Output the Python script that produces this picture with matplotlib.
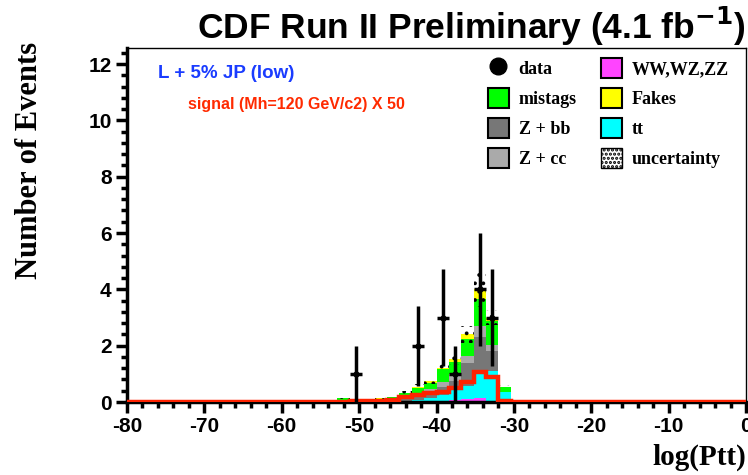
import numpy as np
import matplotlib
matplotlib.use('Agg')
import matplotlib.pyplot as plt
from matplotlib.patches import Patch
from matplotlib.lines import Line2D
from matplotlib.ticker import MultipleLocator

plt.rcParams['axes.unicode_minus'] = False

# binning of log(Ptt): 50 bins from -80 to 0
nbins = 50
xlo, xhi = -80., 0.
first_bin = 17   # index of first filled bin in the arrays below

# background components per bin (bins 17..30)
ww      = [0.00, 0.00, 0.00, 0.00, 0.00, 0.01, 0.01, 0.03, 0.04, 0.08, 0.12, 0.15, 0.05, 0.02]
ttbar   = [0.00, 0.00, 0.00, 0.01, 0.02, 0.03, 0.05, 0.10, 0.20, 0.42, 0.45, 0.85, 1.05, 0.32]
zbb     = [0.03, 0.02, 0.02, 0.03, 0.05, 0.10, 0.15, 0.25, 0.30, 0.26, 0.80, 1.30, 0.72, 0.02]
zcc     = [0.02, 0.01, 0.01, 0.02, 0.03, 0.05, 0.08, 0.08, 0.18, 0.25, 0.28, 0.40, 0.20, 0.00]
mistags = [0.10, 0.05, 0.04, 0.06, 0.08, 0.12, 0.20, 0.22, 0.44, 0.42, 0.60, 0.96, 0.86, 0.16]
fakes   = [0.00, 0.00, 0.00, 0.01, 0.01, 0.02, 0.06, 0.06, 0.04, 0.10, 0.15, 0.35, 0.12, 0.02]
uncert  = [0.03, 0.02, 0.02, 0.03, 0.04, 0.06, 0.08, 0.10, 0.15, 0.20, 0.30, 0.65, 0.25, 0.08]
# signal x 50
signal  = [0.00, 0.03, 0.04, 0.05, 0.08, 0.17, 0.25, 0.32, 0.36, 0.49, 0.71, 1.06, 0.87, 0.05]

# data
data_x = [-50.4, -42.4, -39.2, -37.6, -34.4, -32.8]
data_y = [1, 2, 3, 1, 4, 3]

comp_names  = ['WW,WZ,ZZ', 'tt', 'Z + bb', 'Z + cc', 'mistags', 'Fakes']
comp_vals   = [ww, ttbar, zbb, zcc, mistags, fakes]
comp_colors = ['#ff44ff', '#00ffff', '#777777', '#aaaaaa', '#00ff00', '#ffff00']

edges = np.linspace(xlo, xhi, nbins + 1)
nfill = len(ww)
sub_edges = edges[first_bin:first_bin + nfill + 1]

fig = plt.figure(figsize=(7.48, 4.75), dpi=100)
ax = fig.add_axes([127/748., 73/475., 619/748., 354/475.])

bottom = np.zeros(nfill)
for vals, col in zip(comp_vals, comp_colors):
    vals = np.array(vals)
    ax.stairs(bottom + vals, sub_edges, baseline=bottom, fill=True, color=col, lw=0)
    bottom = bottom + vals

# uncertainty band (dotted)
plt.rcParams['hatch.linewidth'] = 1.5
centers = 0.5*(sub_edges[1:] + sub_edges[:-1])
unc = np.array(uncert)
ax.bar(centers, 2*unc, bottom=bottom - unc, width=1.6, fill=False,
       hatch='..', edgecolor='black', linewidth=0)

# signal
sig_full = np.zeros(nbins)
sig_full[first_bin:first_bin + nfill] = signal
ax.stairs(sig_full, edges, color='#ff2200', lw=3.2, baseline=None, zorder=4)

# data points
dy = np.sqrt(np.array(data_y, dtype=float))
ax.errorbar(data_x, data_y, yerr=dy, xerr=0.8, fmt='o', color='black',
            markersize=3.5, elinewidth=2.5, capsize=0, zorder=5)

ax.set_xlim(xlo, xhi)
ax.set_ylim(0, 12.57)
ax.xaxis.set_major_locator(MultipleLocator(10))
ax.xaxis.set_minor_locator(MultipleLocator(2))
ax.yaxis.set_major_locator(MultipleLocator(2))
ax.yaxis.set_minor_locator(MultipleLocator(0.4))
ax.tick_params(which='major', direction='out', length=8, width=2.5, pad=3,
               labelsize=15)
ax.tick_params(which='minor', direction='out', length=4, width=2.5)
ax.tick_params(top=False, right=False)
for lab in ax.get_xticklabels() + ax.get_yticklabels():
    lab.set_fontfamily('Liberation Sans')
    lab.set_fontweight('bold')
ax.spines['left'].set_linewidth(2.5)
ax.spines['bottom'].set_linewidth(2.5)
ax.spines['top'].set_linewidth(1.0)
ax.spines['right'].set_linewidth(1.0)

# texts
fig.text(0.997, 0.99, r'CDF Run II Preliminary (4.1 fb$^{\mathbf{-1}}$)', ha='right', va='top',
         fontsize=25.5, fontweight='bold', family='Liberation Sans')
fig.text(30/748., 1 - 160/475., 'Number of Events', rotation=90, ha='center', va='center',
         fontsize=22, fontweight='bold', family='Liberation Serif')
fig.text(0.997, 1 - 457/475., 'log(Ptt)', ha='right', va='center',
         fontsize=21, fontweight='bold', family='Liberation Serif')
fig.text(158/748., 1 - 73/475., 'L + 5% JP (low)', ha='left', va='center',
         fontsize=13.5, fontweight='bold', family='Liberation Sans', color='#1a3cff')
fig.text(188/748., 1 - 105/475., 'signal (Mh=120 GeV/c2) X 50', ha='left', va='center',
         fontsize=11.5, fontweight='bold', family='Liberation Sans', color='#ff2a00')

# legend
handles = [Line2D([], [], marker='o', color='black', ls='', markersize=12)]
labels = ['data']
for name in ['mistags', 'Z + bb', 'Z + cc', 'WW,WZ,ZZ', 'Fakes', 'tt']:
    i = comp_names.index(name)
    handles.append(Patch(facecolor=comp_colors[i], edgecolor='black', lw=1.5))
    labels.append(name)
handles.append(Patch(facecolor='white', edgecolor='black', lw=1.0, hatch='....'))
labels.append('uncertainty')
leg = fig.legend(handles, labels, ncol=2, loc='upper left',
                 bbox_to_anchor=(479/748., 1 - 49/475.), frameon=False,
                 borderpad=0, handlelength=1.15, handleheight=1.3, handletextpad=0.55,
                 labelspacing=0.56, columnspacing=1.35,
                 prop={'family': 'Liberation Serif', 'weight': 'bold', 'size': 13})

fig.savefig('out.png', dpi=100)
